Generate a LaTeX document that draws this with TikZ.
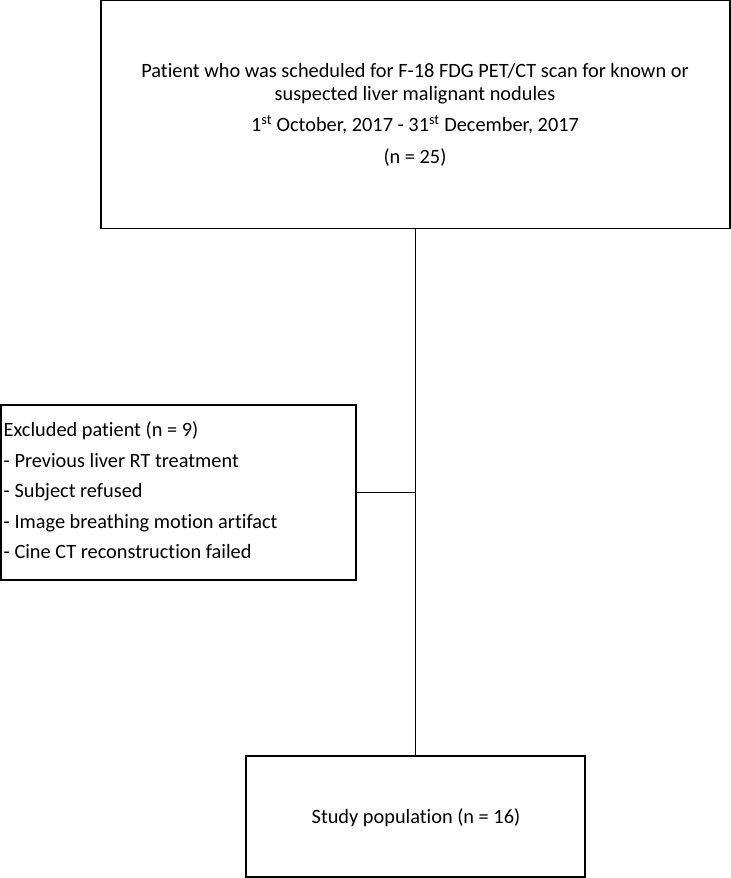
\documentclass[tikz,border=0pt]{standalone}
\usepackage{fontspec}
\setmainfont[Ligatures={NoCommon,TeX}]{Carlito}
\begin{document}
\begin{tikzpicture}[x=1bp,y=-1bp,
  box/.style={draw=black, line width=1.7bp, rectangle, inner sep=0pt},
  txt/.style={inner sep=0pt, font=\fontsize{20.4}{22.3}\selectfont},
  link/.style={draw=black, line width=1.4bp}]
\useasboundingbox (0,0) rectangle (731,878);
% top box
\node[box, minimum width=629bp, minimum height=228bp] (top) at (415.5,114.5) {};
\node[txt, align=center, anchor=base] (toptext) at (415,163)
  {Patient who was scheduled for F-18 FDG PET/CT scan for known or\\
   suspected liver malignant nodules\\[9.4bp]
   1\textsuperscript{st} October, 2017 - 31\textsuperscript{st} December, 2017\\[9bp]
   (n = 25)};
% excluded box
\node[box, minimum width=355bp, minimum height=175bp] (excl) at (178.3,492.5) {};
\node[txt, align=left, anchor=base west,
      font=\fontsize{20.4}{30.6}\selectfont] (excltext) at (3.5,558.5)
  {Excluded patient (n = 9)\\
   - Previous liver RT treatment\\
   - Subject refused\\
   - Image breathing motion artifact\\
   - Cine CT reconstruction failed};
% bottom box
\node[box, minimum width=339bp, minimum height=121bp] (study) at (415.5,816.5) {};
\node[txt, anchor=base] (studytext) at (416,823) {Study population (n = 16)};
% connectors
\draw[link] (top.south) -- (study.north);
\draw[link] (excl.east) -- (excl.east -| top.south);
\end{tikzpicture}
\end{document}
